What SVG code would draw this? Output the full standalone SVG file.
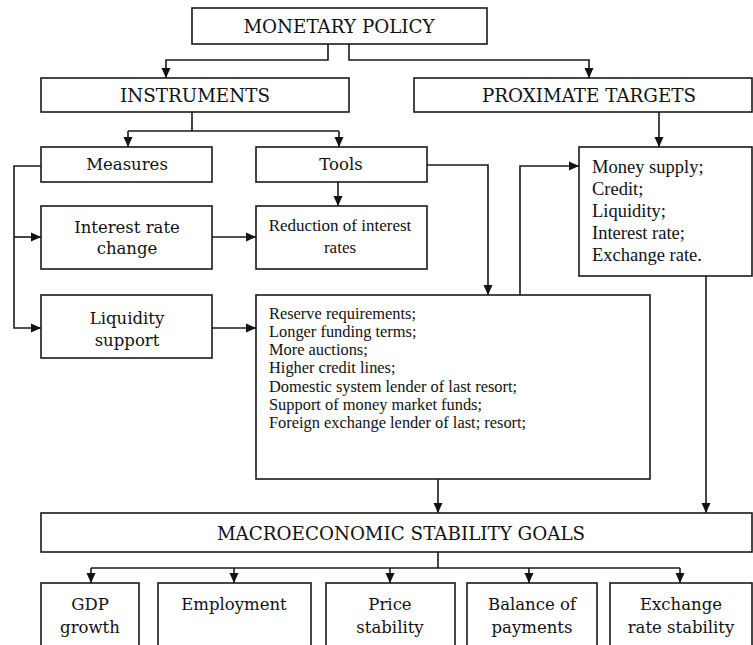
<svg xmlns="http://www.w3.org/2000/svg" width="753" height="645" viewBox="0 0 753 645">
<style>
.box{fill:#fff;stroke:#1a1a1a;stroke-width:1.6}
.ln{fill:none;stroke:#1a1a1a;stroke-width:1.6}
.ar{fill:none;stroke:#1a1a1a;stroke-width:1.6;marker-end:url(#ah)}
.h{font-family:"DejaVu Serif","Liberation Serif",serif;font-size:18.3px;fill:#111;text-anchor:middle;dominant-baseline:central}
.t{font-family:"DejaVu Serif","Liberation Serif",serif;font-size:16.5px;fill:#111;text-anchor:middle;dominant-baseline:central}
.r{font-family:"Liberation Serif","Times New Roman",serif;font-size:17px;fill:#111;dominant-baseline:central}
.l{font-family:"Liberation Serif","Times New Roman",serif;font-size:16.4px;fill:#111;dominant-baseline:central}
.m{font-family:"Liberation Serif","Times New Roman",serif;font-size:18.5px;fill:#111;dominant-baseline:central}
</style>
<defs>
<marker id="ah" markerUnits="userSpaceOnUse" markerWidth="10" markerHeight="10" refX="10" refY="5" orient="auto">
<path d="M0,0.5 L10,5 L0,9.5 z" fill="#111"/>
</marker>
</defs>
<rect width="753" height="645" fill="#fff"/>
<g id="connectors">
<path class="ar" d="M328,44 V60 H166 V78"/>
<path class="ar" d="M349,44 V60 H589 V78"/>
<path class="ln" d="M192,112 V131 M128,131 H339"/>
<path class="ar" d="M128,131 V147"/>
<path class="ar" d="M339,131 V147"/>
<path class="ar" d="M41,166 H14 V328 H41"/>
<path class="ar" d="M14,237 H41"/>
<path class="ar" d="M212,237 H256"/>
<path class="ar" d="M212,328 H256"/>
<path class="ar" d="M338,182 V206"/>
<path class="ar" d="M427,165 H488 V295"/>
<path class="ar" d="M520,295 V166 H579"/>
<path class="ar" d="M659,112 V147"/>
<path class="ar" d="M706,276 V513"/>
<path class="ar" d="M438,479 V513"/>
<path class="ln" d="M438,552 V568 M91,568 H680"/>
<path class="ar" d="M91,568 V583"/>
<path class="ar" d="M234,568 V583"/>
<path class="ar" d="M390,568 V583"/>
<path class="ar" d="M529,568 V583"/>
<path class="ar" d="M680,568 V583"/>
</g>
<g id="monetary-policy"><rect class="box" x="192" y="8" width="295" height="36"/><text class="h" x="339" y="26">MONETARY POLICY</text></g>
<g id="instruments"><rect class="box" x="41" y="78" width="308" height="34"/><text class="h" x="195" y="95">INSTRUMENTS</text></g>
<g id="proximate-targets"><rect class="box" x="414" y="78" width="338" height="34"/><text class="h" x="589" y="95">PROXIMATE TARGETS</text></g>
<g id="measures"><rect class="box" x="41" y="147" width="171" height="35"/><text class="t" x="127" y="164.5">Measures</text></g>
<g id="tools"><rect class="box" x="256" y="147" width="171" height="35"/><text class="t" x="341" y="164.5">Tools</text></g>
<g id="interest-rate-change"><rect class="box" x="41" y="206" width="171" height="63"/><text class="t" x="127" y="227">Interest rate</text><text class="t" x="127" y="248">change</text></g>
<g id="reduction"><rect class="box" x="256" y="206" width="171" height="63"/><text class="r" x="340" y="225" text-anchor="middle">Reduction of interest</text><text class="r" x="340" y="247" text-anchor="middle">rates</text></g>
<g id="liquidity-support"><rect class="box" x="41" y="295" width="171" height="63"/><text class="t" x="127" y="318">Liquidity</text><text class="t" x="127" y="340">support</text></g>
<g id="reserve-list"><rect class="box" x="256" y="295" width="394" height="184"/>
<text class="l" x="269" y="313">Reserve requirements;</text>
<text class="l" x="269" y="331.3">Longer funding terms;</text>
<text class="l" x="269" y="349.6">More auctions;</text>
<text class="l" x="269" y="367.9">Higher credit lines;</text>
<text class="l" x="269" y="386.2">Domestic system lender of last resort;</text>
<text class="l" x="269" y="404.5">Support of money market funds;</text>
<text class="l" x="269" y="422.8">Foreign exchange lender of last; resort;</text>
</g>
<g id="targets-list"><rect class="box" x="579" y="147" width="173" height="129"/>
<text class="m" x="592" y="167">Money supply;</text>
<text class="m" x="592" y="189">Credit;</text>
<text class="m" x="592" y="211">Liquidity;</text>
<text class="m" x="592" y="233">Interest rate;</text>
<text class="m" x="592" y="255">Exchange rate.</text>
</g>
<g id="macro-goals"><rect class="box" x="41" y="513" width="711" height="39"/><text class="h" x="401" y="533">MACROECONOMIC STABILITY GOALS</text></g>
<g id="gdp"><rect class="box" x="41" y="583" width="98" height="80"/><text class="t" x="90" y="604">GDP</text><text class="t" x="90" y="627">growth</text></g>
<g id="employment"><rect class="box" x="158" y="583" width="153" height="80"/><text class="t" x="234" y="604">Employment</text></g>
<g id="price"><rect class="box" x="326" y="583" width="129" height="80"/><text class="t" x="390" y="604">Price</text><text class="t" x="390" y="627">stability</text></g>
<g id="balance"><rect class="box" x="467" y="583" width="130" height="80"/><text class="t" x="532" y="604">Balance of</text><text class="t" x="532" y="627">payments</text></g>
<g id="exchange"><rect class="box" x="610" y="583" width="142" height="80"/><text class="t" x="681" y="604">Exchange</text><text class="t" x="681" y="627">rate stability</text></g>
</svg>
